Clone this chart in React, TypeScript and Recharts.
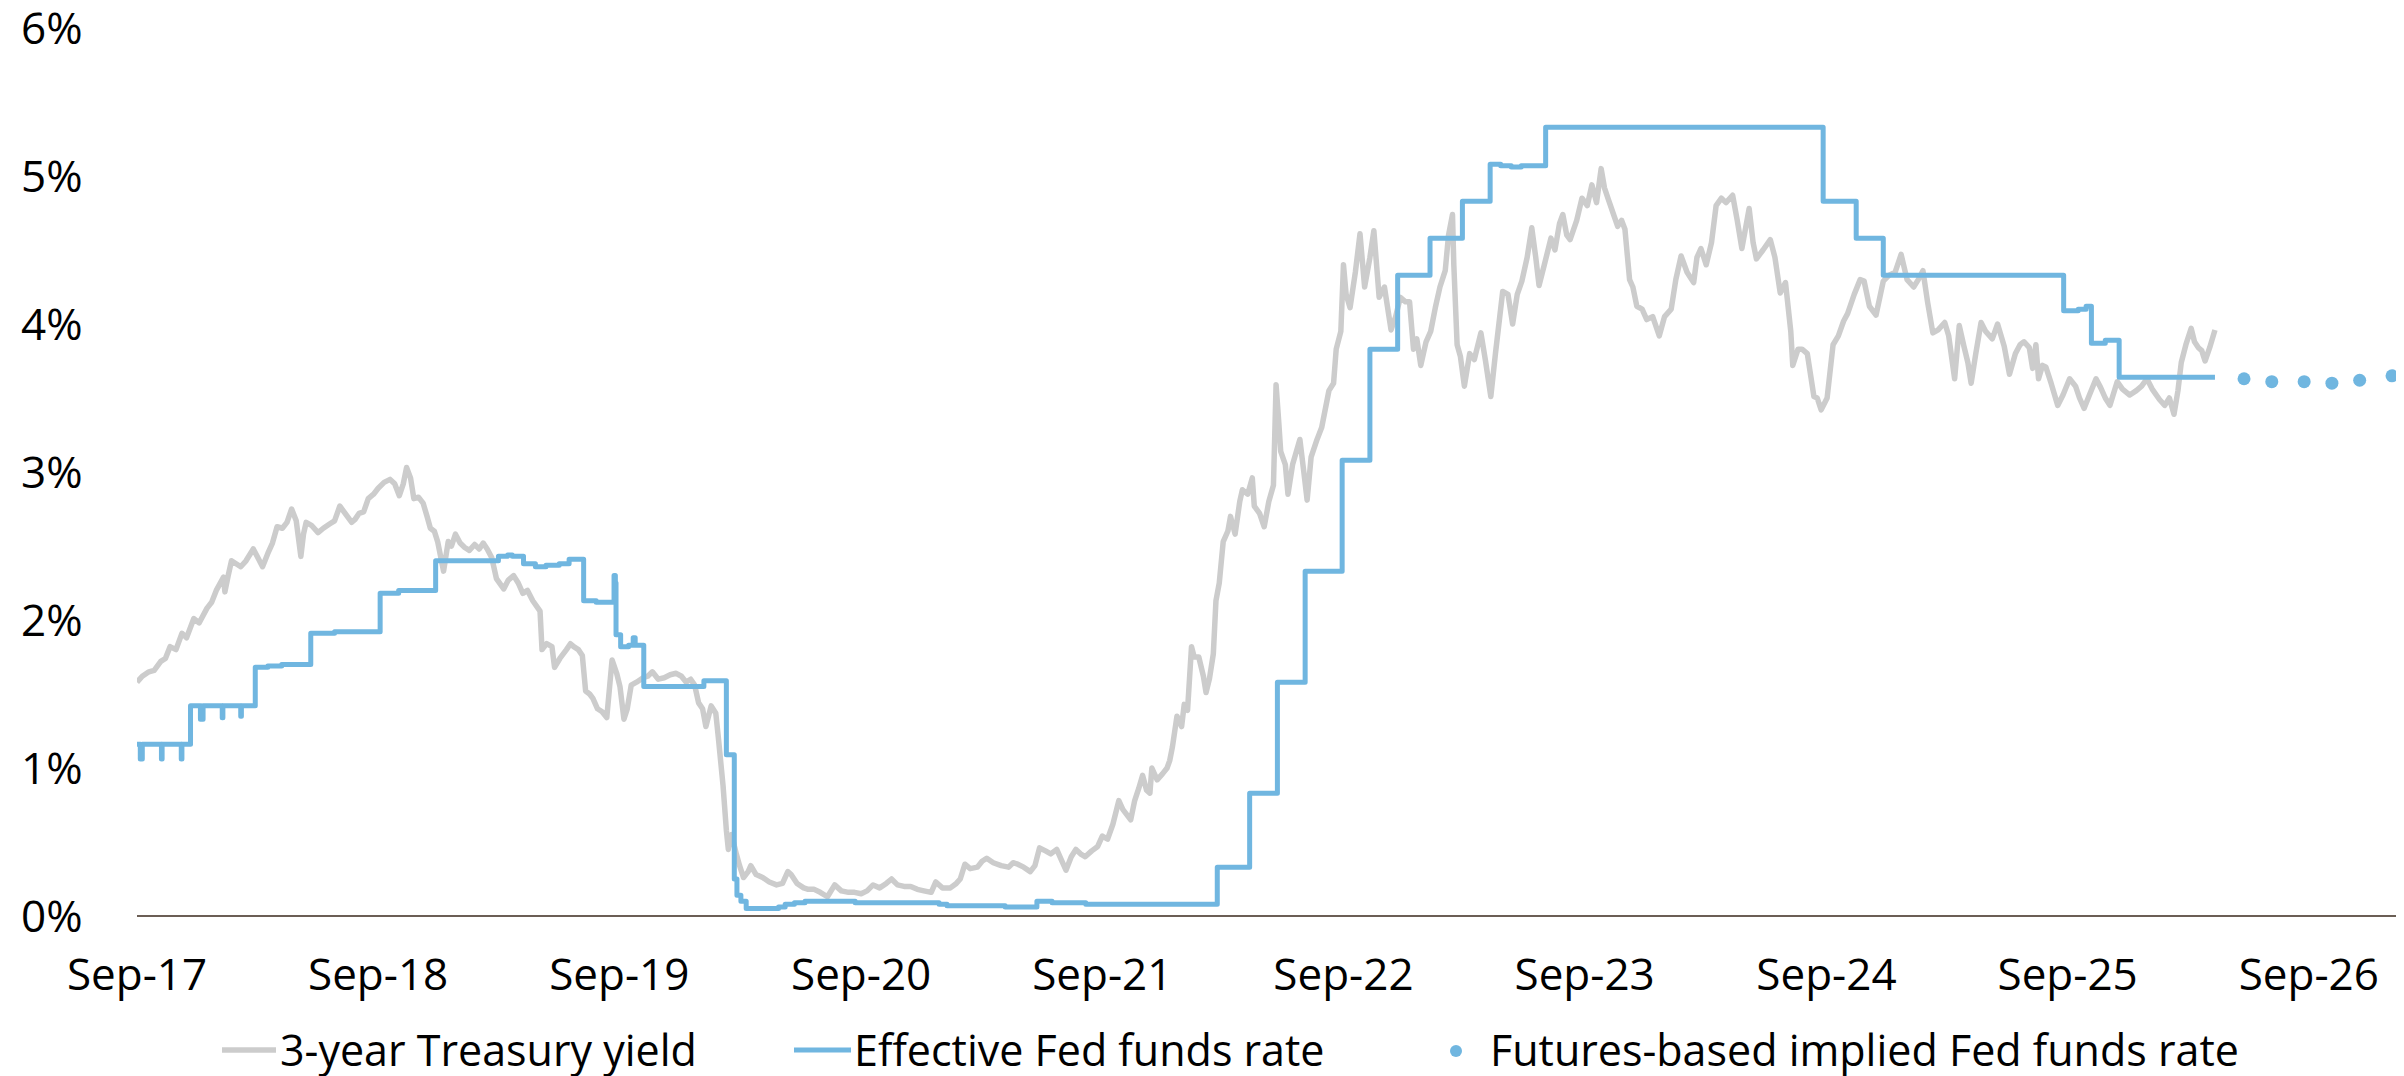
import { LineChart, Line, XAxis, YAxis } from "recharts";

const FONT = "'Open Sans', sans-serif";
const GREY = "#cccccc";
const BLUE = "#70b6e0";

// 3-year Treasury yield (%)
const treasury3y: [string, number][] = [
  ["2017-09-24", 1.58], ["2017-10-02", 1.62], ["2017-10-12", 1.65], ["2017-10-20", 1.66],
  ["2017-10-30", 1.72], ["2017-11-06", 1.74], ["2017-11-13", 1.82], ["2017-11-22", 1.8],
  ["2017-12-01", 1.91], ["2017-12-08", 1.88], ["2017-12-19", 2.01], ["2017-12-27", 1.98],
  ["2018-01-08", 2.08], ["2018-01-15", 2.12], ["2018-01-22", 2.2], ["2018-02-02", 2.29],
  ["2018-02-04", 2.19], ["2018-02-09", 2.3], ["2018-02-14", 2.4], ["2018-02-21", 2.38],
  ["2018-02-28", 2.36], ["2018-03-08", 2.4], ["2018-03-19", 2.48], ["2018-03-26", 2.42],
  ["2018-04-02", 2.36], ["2018-04-10", 2.45], ["2018-04-17", 2.52], ["2018-04-24", 2.63],
  ["2018-05-02", 2.62], ["2018-05-09", 2.66], ["2018-05-16", 2.75], ["2018-05-23", 2.67],
  ["2018-05-30", 2.43], ["2018-06-03", 2.58], ["2018-06-07", 2.66], ["2018-06-15", 2.64],
  ["2018-06-25", 2.59], ["2018-07-03", 2.62], ["2018-07-13", 2.65], ["2018-07-20", 2.67],
  ["2018-07-28", 2.77], ["2018-08-05", 2.72], ["2018-08-15", 2.66], ["2018-08-20", 2.68],
  ["2018-08-26", 2.72], ["2018-09-02", 2.73], ["2018-09-09", 2.82], ["2018-09-17", 2.85],
  ["2018-09-24", 2.89], ["2018-10-03", 2.93], ["2018-10-12", 2.95], ["2018-10-19", 2.92],
  ["2018-10-26", 2.84], ["2018-11-01", 2.92], ["2018-11-06", 3.03], ["2018-11-12", 2.96],
  ["2018-11-17", 2.82], ["2018-11-24", 2.83], ["2018-12-01", 2.79], ["2018-12-07", 2.7],
  ["2018-12-12", 2.62], ["2018-12-18", 2.6], ["2018-12-23", 2.53], ["2019-01-01", 2.33],
  ["2019-01-08", 2.53], ["2019-01-13", 2.5], ["2019-01-19", 2.58], ["2019-01-26", 2.52],
  ["2019-02-02", 2.49], ["2019-02-09", 2.47], ["2019-02-17", 2.51], ["2019-02-24", 2.48],
  ["2019-03-02", 2.52], ["2019-03-08", 2.48], ["2019-03-15", 2.42], ["2019-03-22", 2.28],
  ["2019-04-02", 2.21], ["2019-04-09", 2.27], ["2019-04-17", 2.3], ["2019-04-24", 2.25],
  ["2019-05-01", 2.18], ["2019-05-08", 2.2], ["2019-05-16", 2.13], ["2019-05-27", 2.06],
  ["2019-05-30", 1.8], ["2019-06-06", 1.84], ["2019-06-14", 1.82], ["2019-06-18", 1.68],
  ["2019-06-26", 1.74], ["2019-07-06", 1.8], ["2019-07-12", 1.84], ["2019-07-17", 1.82],
  ["2019-07-24", 1.8], ["2019-07-30", 1.76], ["2019-08-04", 1.52], ["2019-08-10", 1.5],
  ["2019-08-15", 1.47], ["2019-08-22", 1.4], ["2019-08-29", 1.38], ["2019-09-05", 1.34],
  ["2019-09-13", 1.73], ["2019-09-20", 1.64], ["2019-09-25", 1.55], ["2019-10-01", 1.33],
  ["2019-10-06", 1.4], ["2019-10-12", 1.56], ["2019-10-20", 1.58], ["2019-10-30", 1.61],
  ["2019-11-06", 1.62], ["2019-11-13", 1.65], ["2019-11-22", 1.6], ["2019-12-01", 1.61],
  ["2019-12-10", 1.63], ["2019-12-19", 1.64], ["2019-12-27", 1.62], ["2020-01-03", 1.58],
  ["2020-01-10", 1.6], ["2020-01-16", 1.56], ["2020-01-22", 1.44], ["2020-01-28", 1.4],
  ["2020-02-02", 1.28], ["2020-02-10", 1.42], ["2020-02-17", 1.37], ["2020-02-21", 1.2],
  ["2020-02-28", 0.88], ["2020-03-04", 0.58], ["2020-03-07", 0.45], ["2020-03-12", 0.55],
  ["2020-03-19", 0.42], ["2020-03-24", 0.34], ["2020-03-30", 0.26], ["2020-04-06", 0.3],
  ["2020-04-10", 0.34], ["2020-04-18", 0.28], ["2020-04-28", 0.26], ["2020-05-08", 0.23],
  ["2020-05-19", 0.21], ["2020-05-28", 0.22], ["2020-06-05", 0.3], ["2020-06-10", 0.28],
  ["2020-06-19", 0.22], ["2020-06-29", 0.19], ["2020-07-06", 0.18], ["2020-07-15", 0.18],
  ["2020-07-24", 0.16], ["2020-08-04", 0.13], ["2020-08-15", 0.21], ["2020-08-25", 0.17],
  ["2020-09-05", 0.16], ["2020-09-14", 0.16], ["2020-09-24", 0.15], ["2020-10-03", 0.17],
  ["2020-10-12", 0.21], ["2020-10-22", 0.19], ["2020-11-01", 0.22], ["2020-11-09", 0.25],
  ["2020-11-18", 0.21], ["2020-11-28", 0.2], ["2020-12-08", 0.2], ["2020-12-18", 0.18],
  ["2020-12-28", 0.17], ["2021-01-08", 0.16], ["2021-01-15", 0.23], ["2021-01-25", 0.19],
  ["2021-02-06", 0.19], ["2021-02-15", 0.22], ["2021-02-21", 0.25], ["2021-02-28", 0.35],
  ["2021-03-08", 0.32], ["2021-03-19", 0.33], ["2021-03-26", 0.37], ["2021-04-02", 0.39],
  ["2021-04-12", 0.36], ["2021-04-24", 0.34], ["2021-05-05", 0.33], ["2021-05-12", 0.36],
  ["2021-05-19", 0.35], ["2021-05-28", 0.33], ["2021-06-07", 0.3], ["2021-06-14", 0.34],
  ["2021-06-21", 0.46], ["2021-06-30", 0.44], ["2021-07-08", 0.42], ["2021-07-17", 0.45],
  ["2021-07-24", 0.38], ["2021-07-31", 0.31], ["2021-08-08", 0.4], ["2021-08-15", 0.45],
  ["2021-08-22", 0.42], ["2021-08-29", 0.4], ["2021-09-08", 0.44], ["2021-09-17", 0.47],
  ["2021-09-24", 0.54], ["2021-10-02", 0.52], ["2021-10-10", 0.62], ["2021-10-19", 0.78],
  ["2021-10-25", 0.72], ["2021-11-06", 0.65], ["2021-11-12", 0.78], ["2021-11-18", 0.86],
  ["2021-11-24", 0.95], ["2021-11-30", 0.85], ["2021-12-05", 0.83], ["2021-12-08", 1.0],
  ["2021-12-16", 0.92], ["2021-12-24", 0.96], ["2021-12-31", 1.0], ["2022-01-04", 1.05],
  ["2022-01-08", 1.14], ["2022-01-15", 1.35], ["2022-01-22", 1.28], ["2022-01-26", 1.43],
  ["2022-01-31", 1.39], ["2022-02-06", 1.82], ["2022-02-10", 1.75], ["2022-02-17", 1.75],
  ["2022-02-24", 1.62], ["2022-02-28", 1.51], ["2022-03-05", 1.6], ["2022-03-11", 1.77],
  ["2022-03-15", 2.13], ["2022-03-20", 2.25], ["2022-03-26", 2.53], ["2022-04-02", 2.6],
  ["2022-04-06", 2.7], ["2022-04-13", 2.58], ["2022-04-20", 2.8], ["2022-04-24", 2.88],
  ["2022-05-02", 2.85], ["2022-05-09", 2.96], ["2022-05-12", 2.77], ["2022-05-20", 2.72],
  ["2022-05-27", 2.63], ["2022-06-03", 2.8], ["2022-06-10", 2.91], ["2022-06-14", 3.59],
  ["2022-06-18", 3.34], ["2022-06-21", 3.14], ["2022-06-28", 3.05], ["2022-07-02", 2.85],
  ["2022-07-09", 3.05], ["2022-07-20", 3.22], ["2022-07-26", 3.0], ["2022-07-31", 2.81],
  ["2022-08-06", 3.1], ["2022-08-15", 3.22], ["2022-08-22", 3.3], ["2022-09-02", 3.55],
  ["2022-09-09", 3.6], ["2022-09-13", 3.83], ["2022-09-20", 3.95], ["2022-09-24", 4.4],
  ["2022-09-28", 4.2], ["2022-10-04", 4.11], ["2022-10-12", 4.35], ["2022-10-19", 4.61],
  ["2022-10-26", 4.25], ["2022-11-03", 4.45], ["2022-11-09", 4.63], ["2022-11-17", 4.18],
  ["2022-11-25", 4.25], ["2022-12-05", 3.96], ["2022-12-12", 4.05], ["2022-12-19", 4.18],
  ["2022-12-27", 4.15], ["2023-01-02", 4.15], ["2023-01-08", 3.83], ["2023-01-13", 3.9],
  ["2023-01-19", 3.72], ["2023-01-27", 3.88], ["2023-02-03", 3.95], ["2023-02-10", 4.11],
  ["2023-02-17", 4.25], ["2023-02-25", 4.36], ["2023-03-02", 4.6], ["2023-03-08", 4.74],
  ["2023-03-10", 4.4], ["2023-03-15", 3.86], ["2023-03-20", 3.78], ["2023-03-26", 3.58],
  ["2023-04-03", 3.8], ["2023-04-10", 3.76], ["2023-04-20", 3.94], ["2023-04-27", 3.75],
  ["2023-05-05", 3.51], ["2023-05-12", 3.8], ["2023-05-23", 4.22], ["2023-05-31", 4.2],
  ["2023-06-07", 4.0], ["2023-06-14", 4.2], ["2023-06-21", 4.29], ["2023-06-29", 4.45],
  ["2023-07-06", 4.65], ["2023-07-12", 4.45], ["2023-07-17", 4.26], ["2023-07-25", 4.4],
  ["2023-08-04", 4.58], ["2023-08-10", 4.5], ["2023-08-17", 4.68], ["2023-08-22", 4.74],
  ["2023-08-28", 4.6], ["2023-09-02", 4.57], ["2023-09-12", 4.7], ["2023-09-20", 4.85],
  ["2023-09-28", 4.8], ["2023-10-05", 4.94], ["2023-10-12", 4.82], ["2023-10-19", 5.05],
  ["2023-10-24", 4.92], ["2023-10-30", 4.84], ["2023-11-06", 4.75], ["2023-11-13", 4.66],
  ["2023-11-19", 4.7], ["2023-11-24", 4.64], ["2023-12-01", 4.3], ["2023-12-06", 4.25],
  ["2023-12-12", 4.12], ["2023-12-20", 4.1], ["2023-12-27", 4.03], ["2024-01-05", 4.05],
  ["2024-01-15", 3.92], ["2024-01-23", 4.05], ["2024-02-02", 4.1], ["2024-02-09", 4.3],
  ["2024-02-17", 4.46], ["2024-02-26", 4.35], ["2024-03-07", 4.28], ["2024-03-12", 4.45],
  ["2024-03-18", 4.51], ["2024-03-26", 4.4], ["2024-04-03", 4.55], ["2024-04-10", 4.8],
  ["2024-04-18", 4.85], ["2024-04-25", 4.82], ["2024-05-05", 4.87], ["2024-05-12", 4.7],
  ["2024-05-19", 4.51], ["2024-05-30", 4.78], ["2024-06-05", 4.55], ["2024-06-10", 4.44],
  ["2024-06-20", 4.5], ["2024-07-01", 4.57], ["2024-07-08", 4.45], ["2024-07-16", 4.21],
  ["2024-07-24", 4.28], ["2024-08-01", 3.95], ["2024-08-04", 3.72], ["2024-08-12", 3.83],
  ["2024-08-18", 3.83], ["2024-08-26", 3.8], ["2024-09-05", 3.51], ["2024-09-10", 3.5],
  ["2024-09-16", 3.42], ["2024-09-25", 3.5], ["2024-10-04", 3.86], ["2024-10-12", 3.92],
  ["2024-10-20", 4.02], ["2024-10-26", 4.07], ["2024-11-05", 4.2], ["2024-11-14", 4.3],
  ["2024-11-20", 4.29], ["2024-11-28", 4.12], ["2024-12-08", 4.06], ["2024-12-19", 4.29],
  ["2024-12-28", 4.33], ["2025-01-06", 4.35], ["2025-01-15", 4.47], ["2025-01-24", 4.3],
  ["2025-02-03", 4.25], ["2025-02-10", 4.3], ["2025-02-17", 4.36], ["2025-02-24", 4.15],
  ["2025-03-04", 3.94], ["2025-03-12", 3.96], ["2025-03-22", 4.01], ["2025-03-28", 3.92],
  ["2025-04-06", 3.63], ["2025-04-13", 3.99], ["2025-04-20", 3.85], ["2025-04-26", 3.74],
  ["2025-05-01", 3.6], ["2025-05-08", 3.8], ["2025-05-16", 4.01], ["2025-05-23", 3.95],
  ["2025-06-02", 3.9], ["2025-06-10", 4.0], ["2025-06-20", 3.85], ["2025-06-28", 3.66],
  ["2025-07-07", 3.8], ["2025-07-14", 3.86], ["2025-07-20", 3.88], ["2025-07-28", 3.84],
  ["2025-08-02", 3.7], ["2025-08-07", 3.86], ["2025-08-11", 3.63], ["2025-08-17", 3.72],
  ["2025-08-22", 3.71], ["2025-08-30", 3.6], ["2025-09-09", 3.45], ["2025-09-17", 3.52],
  ["2025-09-27", 3.63], ["2025-10-06", 3.58], ["2025-10-12", 3.5], ["2025-10-19", 3.43],
  ["2025-10-27", 3.52], ["2025-11-06", 3.63], ["2025-11-13", 3.57], ["2025-11-20", 3.5],
  ["2025-11-27", 3.45], ["2025-12-08", 3.61], ["2025-12-16", 3.56], ["2025-12-27", 3.52],
  ["2026-01-06", 3.55], ["2026-01-14", 3.58], ["2026-01-22", 3.63], ["2026-01-30", 3.56],
  ["2026-02-10", 3.49], ["2026-02-18", 3.45], ["2026-02-25", 3.5], ["2026-03-04", 3.39],
  ["2026-03-10", 3.55], ["2026-03-15", 3.74], ["2026-03-22", 3.86], ["2026-03-30", 3.97],
  ["2026-04-04", 3.88], ["2026-04-10", 3.84], ["2026-04-15", 3.82], ["2026-04-20", 3.75],
  ["2026-04-27", 3.84], ["2026-05-05", 3.96],
];

// Effective Fed funds rate (%), value from each date on
const effectiveFedFunds: [string, number][] = [
  ["2017-09-24", 1.16], ["2017-09-29", 1.06], ["2017-10-02", 1.16], ["2017-10-31", 1.06],
  ["2017-11-01", 1.16], ["2017-11-30", 1.06], ["2017-12-01", 1.16], ["2017-12-14", 1.42],
  ["2017-12-29", 1.33], ["2018-01-02", 1.42], ["2018-01-31", 1.34], ["2018-02-01", 1.42],
  ["2018-02-28", 1.35], ["2018-03-01", 1.42], ["2018-03-22", 1.68], ["2018-04-10", 1.69],
  ["2018-05-01", 1.7], ["2018-06-14", 1.91], ["2018-07-20", 1.92], ["2018-09-27", 2.18],
  ["2018-10-25", 2.2], ["2018-12-20", 2.4], ["2019-03-25", 2.43], ["2019-04-08", 2.44],
  ["2019-04-15", 2.43], ["2019-05-02", 2.38], ["2019-05-20", 2.36], ["2019-06-05", 2.37],
  ["2019-06-25", 2.38], ["2019-07-10", 2.41], ["2019-08-01", 2.13], ["2019-08-20", 2.12],
  ["2019-09-16", 2.3], ["2019-09-18", 2.25], ["2019-09-19", 1.9], ["2019-09-26", 1.82],
  ["2019-10-08", 1.83], ["2019-10-15", 1.88], ["2019-10-18", 1.83], ["2019-10-31", 1.55],
  ["2020-01-30", 1.59], ["2020-03-04", 1.09], ["2020-03-16", 0.25], ["2020-03-20", 0.14],
  ["2020-03-26", 0.1], ["2020-04-03", 0.05], ["2020-05-22", 0.06], ["2020-06-01", 0.08],
  ["2020-06-15", 0.09], ["2020-07-01", 0.1], ["2020-09-15", 0.09], ["2021-01-20", 0.08],
  ["2021-02-01", 0.07], ["2021-04-30", 0.06], ["2021-06-17", 0.1], ["2021-07-10", 0.09],
  ["2021-08-30", 0.08], ["2022-03-17", 0.33], ["2022-05-05", 0.83], ["2022-06-16", 1.58],
  ["2022-07-28", 2.33], ["2022-09-22", 3.08], ["2022-11-03", 3.83], ["2022-12-15", 4.33],
  ["2023-02-02", 4.58], ["2023-03-23", 4.83], ["2023-05-04", 5.08], ["2023-05-20", 5.07],
  ["2023-06-05", 5.06], ["2023-06-20", 5.07], ["2023-07-27", 5.33], ["2024-09-19", 4.83],
  ["2024-11-08", 4.58], ["2024-12-19", 4.33], ["2025-09-18", 4.09], ["2025-10-10", 4.1],
  ["2025-10-22", 4.12], ["2025-10-30", 3.87], ["2025-11-20", 3.89], ["2025-12-11", 3.64],
  ["2026-05-05", 3.64],
];

// Futures-based implied Fed funds rate (%), at upcoming FOMC meetings
const impliedFedFunds: [string, number][] = [
  ["2026-06-18", 3.63], ["2026-07-30", 3.61], ["2026-09-17", 3.61],
  ["2026-10-29", 3.6], ["2026-12-10", 3.62], ["2027-01-28", 3.65],
];

const tickDates = [
  "2017-09-24", "2018-09-24", "2019-09-24", "2020-09-24", "2021-09-24",
  "2022-09-24", "2023-09-24", "2024-09-24", "2025-09-24", "2026-09-24",
];
const tickLabels = [
  "Sep-17", "Sep-18", "Sep-19", "Sep-20", "Sep-21",
  "Sep-22", "Sep-23", "Sep-24", "Sep-25", "Sep-26",
];
const yTicks = [0, 1, 2, 3, 4, 5, 6];

const toTime = (d: string) => Date.parse(d);
const toPoints = (rows: [string, number][]) => rows.map(([d, v]) => ({ t: toTime(d), v }));

const treasuryData = toPoints(treasury3y);
const effrData = toPoints(effectiveFedFunds);
const futuresData = toPoints(impliedFedFunds);
const xTicks = tickDates.map(toTime);
const xDomain = [toTime("2017-09-24"), toTime("2027-02-03")];

const XTick = ({ x, y, payload }: any) => {
  const i = xTicks.indexOf(payload.value);
  return (
    <text x={x} y={y + 74} textAnchor="middle" fontFamily={FONT} fontSize={44} fill="#000">
      {tickLabels[i]}
    </text>
  );
};

const YTick = ({ y, payload }: any) => (
  <text x={21} y={y + 15.5} textAnchor="start" fontFamily={FONT} fontSize={44} fill="#000">
    {payload.value}%
  </text>
);

export default function App() {
  return (
    <div style={{ position: "absolute", left: 0, top: 0, width: 2404, height: 1076, background: "#fff" }}>
      <LineChart width={2404} height={1076} margin={{ top: 28, right: 8, bottom: 60, left: 0 }}>
        <XAxis
          dataKey="t"
          type="number"
          domain={xDomain}
          ticks={xTicks}
          tick={<XTick />}
          tickLine={false}
          tickSize={0}
          tickMargin={0}
          height={100}
          axisLine={{ stroke: "#6b5e55", strokeWidth: 2 }}
          allowDataOverflow
        />
        <YAxis
          type="number"
          domain={[0, 6]}
          ticks={yTicks}
          tick={<YTick />}
          axisLine={false}
          tickLine={false}
          width={137}
        />
        <Line
          data={treasuryData}
          dataKey="v"
          type="linear"
          stroke={GREY}
          strokeWidth={5.5}
          strokeLinejoin="round"
          dot={false}
          isAnimationActive={false}
        />
        <Line
          data={effrData}
          dataKey="v"
          type="stepAfter"
          stroke={BLUE}
          strokeWidth={5}
          strokeLinejoin="round"
          dot={false}
          isAnimationActive={false}
        />
        <Line
          data={futuresData}
          dataKey="v"
          type="linear"
          stroke="none"
          dot={{ r: 6.5, fill: BLUE, stroke: "none" }}
          isAnimationActive={false}
        />
      </LineChart>
      <svg width={2404} height={60} style={{ position: "absolute", left: 0, top: 1020 }}>
        <line x1={222} x2={276} y1={30} y2={30} stroke={GREY} strokeWidth={5.5} />
        <text x={280} y={46} fontFamily={FONT} fontSize={43} fill="#000">3-year Treasury yield</text>
        <line x1={794} x2={851} y1={30} y2={30} stroke={BLUE} strokeWidth={5} />
        <text x={854} y={46} fontFamily={FONT} fontSize={43} fill="#000">Effective Fed funds rate</text>
        <circle cx={1456} cy={31} r={6} fill={BLUE} />
        <text x={1490} y={46} fontFamily={FONT} fontSize={43} fill="#000">Futures-based implied Fed funds rate</text>
      </svg>
    </div>
  );
}
